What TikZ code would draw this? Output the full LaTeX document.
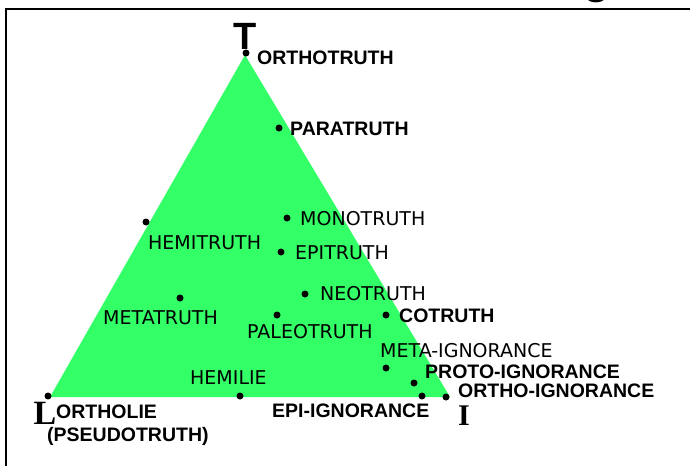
\documentclass[tikz,border=0pt]{standalone}
\usepackage{fontspec}
\setmainfont{DejaVu Sans}
\newfontfamily\boldlab{Liberation Sans}
\newfontfamily\serifbig{Liberation Serif}
\definecolor{tri}{RGB}{51,255,102}
\begin{document}
\begin{tikzpicture}[x=1pt,y=-1pt,
  reglab/.style={anchor=west,inner sep=0pt,font=\fontsize{19}{19}\selectfont},
  boldl/.style={anchor=west,inner sep=0pt,font=\boldlab\bfseries\fontsize{19.5}{19.5}\selectfont},
  pt/.style={circle,fill=black,inner sep=0pt,minimum size=7pt}]
\useasboundingbox (0,0) rectangle (690,466);
\fill[white] (0,0) rectangle (690,466);
% cut-off title glyph
\node[anchor=base,inner sep=0pt,font=\boldlab\bfseries\fontsize{44}{44}\selectfont] (g) at (597,-7) {g};
% frame
\draw[line width=2.5pt] (6,466) -- (6,9) -- (690,9);
% triangle
\coordinate (vT) at (245,55);
\coordinate (vL) at (50,397);
\coordinate (vI) at (450,397);
\fill[tri] (vT) -- (vL) -- (vI) -- cycle;
% corner letters
\node[inner sep=0pt,font=\boldlab\bfseries\fontsize{38}{38}\selectfont] (T) at (245,36) {T};
\node[inner sep=0pt,font=\serifbig\bfseries\fontsize{34}{34}\selectfont] (L) at (45,413) {L};
\node[inner sep=0pt,font=\serifbig\bfseries\fontsize{30}{30}\selectfont] (I) at (464,416) {I};
% dots
\node[pt] (dOrthotruth) at (246,53) {};
\node[pt] (dPara) at (279,128) {};
\node[pt] (dHemi) at (146,222) {};
\node[pt] (dMono) at (287,218) {};
\node[pt] (dEpi) at (281,252) {};
\node[pt] (dNeo) at (305,294) {};
\node[pt] (dMeta) at (180,298) {};
\node[pt] (dPaleo) at (277,315) {};
\node[pt] (dCo) at (386,315) {};
\node[pt] (dMetaIg) at (386,368) {};
\node[pt] (dProtoIg) at (414,383) {};
\node[pt] (dOrthoIg) at (446,397) {};
\node[pt] (dEpiIg) at (422,396) {};
\node[pt] (dHemilie) at (240,396) {};
\node[pt] (dOrtholie) at (48,396) {};
% labels
\node[boldl] (lOrthotruth) at (257,58) {ORTHOTRUTH};
\node[boldl] (lPara) at (290,129) {PARATRUTH};
\node[reglab] (lHemi) at (148,243) {HEMITRUTH};
\node[reglab] (lMono) at (300,219) {MONOTRUTH};
\node[reglab] (lEpi) at (295,253) {EPITRUTH};
\node[reglab] (lNeo) at (320,294) {NEOTRUTH};
\node[reglab] (lMeta) at (103,318) {METATRUTH};
\node[reglab] (lPaleo) at (247,332) {PALEOTRUTH};
\node[boldl] (lCo) at (399,316) {COTRUTH};
\node[reglab] (lMetaIg) at (380,351) {META-IGNORANCE};
\node[boldl] (lProtoIg) at (425,372) {PROTO-IGNORANCE};
\node[boldl] (lOrthoIg) at (458,391) {ORTHO-IGNORANCE};
\node[reglab] (lHemilie) at (190,378) {HEMILIE};
\node[boldl] (lEpiIg) at (272,411) {EPI-IGNORANCE};
\node[boldl] (lOrtholie) at (56,412) {ORTHOLIE};
\node[boldl] (lPseudo) at (47,436) {(PSEUDOTRUTH)};
\end{tikzpicture}
\end{document}
